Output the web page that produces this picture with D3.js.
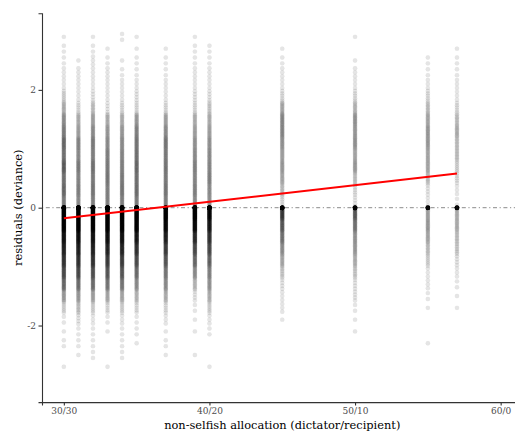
<!DOCTYPE html>
<html>
<head>
<meta charset="utf-8">
<script src="https://cdn.jsdelivr.net/npm/d3@7"></script>
<style>
  html, body { margin: 0; padding: 0; background: #fff; }
  svg { display: block; }
</style>
</head>
<body>
<svg id="chart" width="515" height="433"></svg>
<script>
// Allocation offered by the dictator (x positions of the point columns)
const allocations = [30, 31, 32, 33, 34, 35, 37, 39, 40, 45, 50, 55, 57];

// Residual bins (centres, width 0.2) from -2.9 up to 2.9
const residualBins = [-2.9, -2.7, -2.5, -2.3, -2.1, -1.9, -1.7, -1.5, -1.3, -1.1,
                      -0.9, -0.7, -0.5, -0.3, -0.1, 0.1, 0.3, 0.5, 0.7, 0.9,
                      1.1, 1.3, 1.5, 1.7, 1.9, 2.1, 2.3, 2.5, 2.7, 2.9];

// Number of observations in each residual bin, one row per allocation
const binCounts = [
  [0,1,0,2,1,2,6,13,22,30,38,46,56,72,77, 18,22,20,25,20,22,18,15,10,6,3,3,2,2,1],
  [0,0,1,2,2,4,8,13,21,30,38,46,56,72,77, 15,17,16,18,15,16,12,10,5,3,3,3,1,0,0],
  [0,0,2,2,2,3,6,12,21,28,38,46,56,72,77, 17,19,18,20,17,18,15,12,8,4,3,3,3,2,1],
  [0,1,0,0,1,2,5,11,19,26,34,44,56,72,77, 17,17,19,18,17,15,13,10,4,3,3,3,2,1,0],
  [0,0,2,2,2,3,6,11,19,26,34,44,56,72,77, 17,19,18,17,16,15,13,10,5,3,3,2,1,0,2],
  [0,0,0,1,2,2,5,9,15,21,29,38,50,70,77, 18,21,20,22,20,19,17,13,5,4,3,2,2,1,1],
  [0,0,1,2,1,3,5,10,15,19,26,34,46,64,77, 17,19,18,19,18,19,15,12,5,3,3,2,2,1,0],
  [0,0,1,0,1,1,2,4,9,15,22,30,42,64,77, 15,17,16,17,15,14,12,10,5,4,3,3,2,2,1],
  [0,1,0,0,2,3,6,10,14,17,23,30,38,52,66, 14,15,17,16,15,14,12,10,7,4,3,3,2,2,0],
  [0,0,0,0,0,1,3,3,4,7,11,15,20,26,36, 5,8,11,13,12,14,16,16,11,5,3,3,2,1,0],
  [0,0,0,0,1,1,2,4,4,7,10,13,14,20,26, 4,5,8,13,11,14,13,14,9,5,3,3,1,0,1],
  [0,0,0,1,0,0,1,2,3,3,6,8,11,13,12, 3,4,8,11,11,13,13,11,8,5,3,2,2,0,0],
  [0,0,0,0,0,0,1,1,2,3,4,7,8,10,10, 2,3,5,6,8,8,10,8,5,3,3,2,2,1,0]
];

// Observations whose residual is exactly zero
const zeroCounts = [40, 40, 40, 40, 40, 40, 40, 40, 40, 30, 30, 25, 25];

// Fitted trend of residuals against allocation
const fitX = [30, 57];
const fitY = [-0.18, 0.58];

// Axis ticks
const xTicks = [30, 40, 50, 60];
const xTickLabels = ["30/30", "40/20", "50/10", "60/0"];
const yTicks = [-2, 0, 2];

const svg = d3.select("#chart");
const panel = { left: 42, right: 522.5, top: 13.3, bottom: 402.1 };

const x = d3.scaleLinear().domain([28.5, 61.5]).range([panel.left, panel.right]);
const y = d3.scaleLinear().domain([-3.3, 3.3]).range([panel.bottom, panel.top]);

// Expand the binned counts into individual observations
const points = [];
allocations.forEach((a, ci) => {
  binCounts[ci].forEach((n, bi) => {
    const lo = residualBins[bi] - 0.1;
    for (let k = 0; k < n; k++) {
      points.push({ a: a, r: lo + (k + 0.5) * 0.2 / n });
    }
  });
  for (let k = 0; k < zeroCounts[ci]; k++) points.push({ a: a, r: 0 });
});

const plot = svg.append("g");

// Reference line at zero residual
plot.append("line")
  .attr("x1", panel.left).attr("x2", panel.right)
  .attr("y1", y(0)).attr("y2", y(0))
  .attr("stroke", "#8c8c8c")
  .attr("stroke-width", 1)
  .attr("stroke-dasharray", "1.2,2.6,4,2.6");

plot.append("g")
  .selectAll("circle")
  .data(points)
  .join("circle")
  .attr("cx", d => x(d.a))
  .attr("cy", d => y(d.r))
  .attr("r", 2.2)
  .attr("fill", "#000")
  .attr("fill-opacity", 0.1)
  .attr("stroke", "#000")
  .attr("stroke-opacity", 0.04)
  .attr("stroke-width", 0.5);

// Fitted line
plot.append("path")
  .datum(fitX.map((v, i) => [v, fitY[i]]))
  .attr("d", d3.line().x(d => x(d[0])).y(d => y(d[1])))
  .attr("fill", "none")
  .attr("stroke", "#ff0000")
  .attr("stroke-width", 2);

// Axes
const fontFam = "'DejaVu Serif', serif";
const xAxis = svg.append("g")
  .attr("transform", `translate(0,${panel.bottom})`)
  .call(d3.axisBottom(x).tickValues(xTicks)
        .tickFormat((d, i) => xTickLabels[i]).tickSizeOuter(0).tickSize(3.5).tickPadding(2.5));
const yAxis = svg.append("g")
  .attr("transform", `translate(${panel.left},0)`)
  .call(d3.axisLeft(y).tickValues(yTicks).tickFormat(d => String(d))
        .tickSizeOuter(0).tickSize(3.5).tickPadding(2.5));

[xAxis, yAxis].forEach(g => {
  g.select(".domain").attr("stroke", "#333").attr("stroke-width", 1.1);
  g.selectAll(".tick line").attr("stroke", "#333").attr("stroke-width", 1.1);
  g.selectAll(".tick text")
    .attr("fill", "#4d4d4d")
    .style("font-family", fontFam)
    .style("font-size", "9px");
});

svg.append("text")
  .attr("x", (panel.left + panel.right) / 2)
  .attr("y", 429)
  .attr("text-anchor", "middle")
  .style("font-family", fontFam)
  .style("font-size", "11.4px")
  .attr("fill", "#000")
  .text("non-selfish allocation (dictator/recipient)");

svg.append("text")
  .attr("transform", `translate(22,${(panel.top + panel.bottom) / 2}) rotate(-90)`)
  .attr("text-anchor", "middle")
  .style("font-family", fontFam)
  .style("font-size", "11.4px")
  .attr("fill", "#000")
  .text("residuals (deviance)");
</script>
</body>
</html>
